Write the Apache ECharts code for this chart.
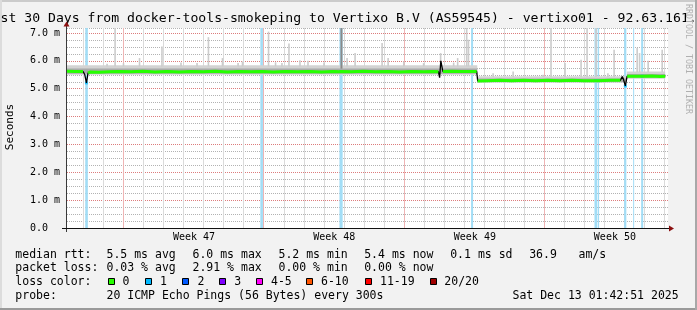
<!DOCTYPE html>
<html>
<head>
<meta charset="utf-8">
<script src="https://cdn.jsdelivr.net/npm/echarts@6.0.0/dist/echarts.min.js"></script>
<style>
html,body{margin:0;padding:0;background:#f2f2f2;}
#chart{width:697px;height:310px;}
</style>
</head>
<body>
<div id="chart"></div>
<script>
// ================= DATA =================
// x: days since the start of the 30-day window, y: round-trip time in ms
const titleText = 'Last 30 Days from docker-tools-smokeping to Vertixo B.V (AS59545) - vertixo01 - 92.63.161.';
const yAxisName = 'Seconds';
const watermark = 'RRDTOOL / TOBI OETIKER';
const yTickLabels = ['0.0  ', '1.0 m', '2.0 m', '3.0 m', '4.0 m', '5.0 m', '6.0 m', '7.0 m'];
const weekLabels = ['Week 47', 'Week 48', 'Week 49', 'Week 50'];
const weekLabelDays = [6.34, 13.34, 20.36, 27.35];
const weekStartDays = [2.82, 9.82, 16.82, 23.82];
const dayLineDays = [0.82, 1.82, 2.82, 3.82, 4.82, 5.82, 6.82, 7.82, 8.82, 9.82,
  10.82, 11.82, 12.82, 13.82, 14.82, 15.82, 16.82, 17.82, 18.82, 19.82,
  20.82, 21.82, 22.82, 23.82, 24.82, 25.82, 26.82, 27.82, 28.82, 29.82];

// median RTT [day, ms]
const medianRtt = [
  [0.00,5.63],[0.40,5.62],[0.80,5.62],[0.88,5.52],[0.97,5.21],[1.05,5.56],[1.15,5.60],
  [1.60,5.59],[2.10,5.61],[2.60,5.62],[3.20,5.61],[3.80,5.63],[4.40,5.60],[5.00,5.62],
  [5.60,5.60],[6.20,5.62],[6.80,5.61],[7.40,5.63],[8.00,5.60],[8.60,5.62],[9.20,5.61],
  [9.72,5.62],[10.30,5.60],[10.90,5.62],[11.50,5.61],[12.10,5.62],[12.70,5.60],[13.30,5.62],
  [13.58,5.61],[13.62,5.55],[13.68,5.62],[14.20,5.61],[14.80,5.63],[15.40,5.61],[16.00,5.62],
  [16.60,5.60],[17.20,5.62],[17.80,5.61],[18.30,5.62],[18.54,5.61],[18.60,5.40],[18.66,6.00],
  [18.76,5.62],[19.20,5.63],[19.70,5.62],[20.22,5.62],[20.45,5.62],[20.50,5.28],[21.00,5.29],
  [21.60,5.30],[22.20,5.29],[22.80,5.30],[23.40,5.29],[24.00,5.30],[24.60,5.29],[25.20,5.30],
  [25.80,5.29],[26.38,5.29],[26.52,5.29],[27.10,5.30],[27.62,5.30],[27.72,5.44],[27.78,5.33],
  [27.87,5.10],[27.96,5.45],[28.40,5.45],[28.71,5.45],[29.20,5.46],[29.60,5.44],[29.86,5.45]
];
// samples with one lost ping [day, median ms]
const lossPoints = [[0.97,5.21],[9.72,5.62],[13.68,5.62],[20.22,5.62],[26.38,5.29],[26.52,5.29],[27.87,5.10],[28.71,5.45]];
// periods with packet loss [startDay, endDay]
const lossPeriods = [[0.91,1.04],[9.65,9.78],[13.60,13.76],[20.17,20.27],[26.33,26.46],[26.49,26.56],[27.81,27.92],[28.26,28.31],[28.66,28.76]];
// smoke (ping spread) [startDay, endDay, lowMs, highMs]
const smokeOuter = [[0,20.48,5.50,5.84],[20.48,27.95,5.21,5.45],[27.95,29.86,5.36,5.62]];
const smokeCore = [[0,20.48,5.54,5.73],[20.48,27.95,5.24,5.37],[27.95,29.86,5.39,5.53]];
// slow pings above the smoke band [day, baseMs, topMs]
const smokeSpikes = [
  [2.00,5.8,5.90],[2.40,5.8,7.18],[2.82,5.8,5.92],[3.62,5.8,6.10],[4.74,5.8,6.52],[5.69,5.8,5.94],
  [6.49,5.8,5.92],[7.06,5.8,6.85],[7.76,5.8,6.10],[8.54,5.8,5.92],[8.76,5.8,5.98],[10.06,5.8,7.05],
  [10.41,5.8,5.95],[10.73,5.8,5.92],[11.08,5.8,6.62],[11.63,5.8,6.02],[12.03,5.8,6.00],[12.83,5.8,5.94],
  [13.98,5.8,6.10],[14.38,5.8,6.28],[15.73,5.8,6.64],[16.03,5.8,6.10],[16.81,5.8,5.98],[17.80,5.8,5.92],
  [18.65,5.8,6.28],[19.30,5.8,5.94],[19.50,5.8,6.10],[19.95,5.8,7.18],[20.04,5.8,6.76],
  [21.27,5.42,5.56],[22.27,5.42,5.62],[23.76,5.42,5.50],[24.16,5.42,7.18],[24.86,5.42,5.92],
  [25.66,5.42,6.04],[25.96,5.42,7.18],[26.41,5.42,7.18],[27.00,5.42,5.56],[27.31,5.42,6.40],
  [28.46,5.6,6.46],[28.58,5.6,6.28],[29.01,5.6,6.00],[29.71,5.6,6.40]
];
const smokeDense = [[13.70,5.68,7.18]];

// legend / statistics texts
const rttLabel = 'median rtt:';
const rttStats = ['5.5 ms avg', '6.0 ms max', '5.2 ms min', '5.4 ms now', '0.1 ms sd', '36.9', 'am/s'];
const lossLabel = 'packet loss:';
const lossStats = ['0.03 % avg', '2.91 % max', '0.00 % min', '0.00 % now'];
const lossColorLabel = 'loss color:';
const lossColorNames = ['0', '1', '2', '3', '4-5', '6-10', '11-19', '20/20'];
const probeLabel = 'probe:';
const probeText = '20 ICMP Echo Pings (56 Bytes) every 300s';
const dateText = 'Sat Dec 13 01:42:51 2025';

// ================= STYLE / LAYOUT =================
const lossColors = ['#26ff00', '#00b8ff', '#0059ff', '#7e00ff', '#ff00fa', '#ff5500', '#ff0000', '#a00000'];
const MONO = '"DejaVu Sans Mono"';
const X_MAX = 30, Y_MAX = 7.18;
const G = {left: 67, right: 668, top: 28, bottom: 228};
const rttX = [106.5, 192.5, 278.5, 364.2, 450.2, 529.2, 578.5];
const boxX = [108.5, 145.5, 182.5, 219.5, 256.5, 306.5, 365.5, 430.5];
const boxLabelX = [122.5, 160, 197.5, 234.3, 271, 321, 380, 444.3];
const rowY = [254.6, 268.4, 282.2, 296];
const gridRed = '#dc7c7c', gridGray = '#b2b2b2';
const vGridRed = '#eeb4b4', vGridGray = '#dadada';
// day-line colours: the week boundaries (every 7th line, from the 3rd) are red
const dayLineColors = dayLineDays.slice(0, 7).map(d => weekStartDays.some(w => Math.abs(w - d) < 1e-6) ? vGridRed : vGridGray);

const chart = echarts.init(document.getElementById('chart'));

const greenData = [];
medianRtt.forEach((p, i) => {
  if (i > 0 && Math.abs(p[1] - medianRtt[i - 1][1]) > 0.1) greenData.push([p[0], null]);
  greenData.push(p);
});

function rectItem(api, x0, x1, y0, y1, fill) {
  const a = api.coord([x0, y1]);
  const b = api.coord([x1, y0]);
  return {type: 'rect', shape: {x: a[0], y: a[1], width: Math.max(b[0] - a[0], 0.8), height: b[1] - a[1]}, style: {fill: fill}};
}

const text = (t, x, y, font, opts) => Object.assign({
  type: 'text', x: x, y: y, z: 100, silent: true,
  style: Object.assign({text: t, font: font, fill: '#000', align: 'left', textAlign: 'left', verticalAlign: 'middle', textVerticalAlign: 'middle'}, (opts && opts.style) || {})
}, opts && opts.el ? opts.el : {});

const legendFont = '11.5px ' + MONO;
const graphics = [];
// frame shading
graphics.push({type: 'rect', z: 100, silent: true, shape: {x: 0, y: 0, width: 697, height: 2}, style: {fill: '#cbcbcb'}});
graphics.push({type: 'rect', z: 100, silent: true, shape: {x: 0, y: 0, width: 2, height: 310}, style: {fill: '#dcdcdc'}});
graphics.push({type: 'rect', z: 100, silent: true, shape: {x: 0, y: 308, width: 697, height: 2}, style: {fill: '#9a9a9a'}});
graphics.push({type: 'rect', z: 100, silent: true, shape: {x: 695, y: 0, width: 2, height: 310}, style: {fill: '#a8a8a8'}});
// axes lines and arrows
graphics.push({type: 'line', z: 100, silent: true, shape: {x1: G.left - 0.5, y1: G.bottom + 4, x2: G.left - 0.5, y2: G.top - 3}, style: {stroke: '#3a3a3a', lineWidth: 1}});
graphics.push({type: 'line', z: 100, silent: true, shape: {x1: G.left - 5, y1: G.bottom + 0.5, x2: G.right + 2, y2: G.bottom + 0.5}, style: {stroke: '#111', lineWidth: 1}});
graphics.push({type: 'polygon', z: 101, silent: true, shape: {points: [[G.left - 0.5, G.top - 6.5], [G.left - 3.5, G.top - 1.5], [G.left + 2.5, G.top - 1.5]]}, style: {fill: '#8b1010'}});
graphics.push({type: 'polygon', z: 101, silent: true, shape: {points: [[G.right + 6, G.bottom + 0.5], [G.right + 1, G.bottom - 2.5], [G.right + 1, G.bottom + 3.5]]}, style: {fill: '#8b1010'}});
// title, axis name, watermark
graphics.push(text(titleText, -15.3, 18.6, '13.15px ' + MONO));
graphics.push(text(yAxisName, 10.5, 127, '11px ' + MONO, {style: {align: 'center', textAlign: 'center'}, el: {rotation: Math.PI / 2}}));
graphics.push(text(watermark, 688, 4, '8.3px ' + MONO, {style: {fill: '#b0b0b0'}, el: {rotation: -Math.PI / 2}}));
// statistics rows
graphics.push(text(rttLabel, 15.3, rowY[0], legendFont));
rttStats.forEach((s, i) => graphics.push(text(s, rttX[i], rowY[0], legendFont)));
graphics.push(text(lossLabel, 15.3, rowY[1], legendFont));
lossStats.forEach((s, i) => graphics.push(text(s, rttX[i], rowY[1], legendFont)));
graphics.push(text(lossColorLabel, 15.3, rowY[2], legendFont));
lossColorNames.forEach((s, i) => {
  graphics.push({type: 'rect', z: 100, silent: true, shape: {x: boxX[i], y: rowY[2] - 3.7, width: 6, height: 6}, style: {fill: lossColors[i], stroke: '#000', lineWidth: 1}});
  graphics.push(text(s, boxLabelX[i], rowY[2], legendFont));
});
graphics.push(text(probeLabel, 15.3, rowY[3], legendFont));
graphics.push(text(probeText, rttX[0], rowY[3], legendFont));
graphics.push(text(dateText, 512.5, rowY[3], legendFont));

const option = {
  animation: false,
  backgroundColor: '#f2f2f2',
  textStyle: {fontFamily: 'DejaVu Sans Mono'},
  grid: {left: G.left, right: 697 - G.right, top: G.top, bottom: 310 - G.bottom, show: true, backgroundColor: '#ffffff', borderWidth: 0},
  xAxis: {
    type: 'value', min: 0, max: X_MAX,
    axisLine: {show: false},
    axisTick: {show: false, customValues: dayLineDays},
    splitLine: {show: true, lineStyle: {color: dayLineColors, width: 1, type: 'solid'}},
    axisLabel: {
      customValues: weekLabelDays,
      formatter: v => { const i = weekLabelDays.findIndex(w => Math.abs(w - v) < 1e-6); return i >= 0 ? weekLabels[i] : ''; },
      fontSize: 10, color: '#000', margin: 4, fontFamily: 'DejaVu Sans Mono'
    }
  },
  yAxis: {
    type: 'value', min: 0, max: Y_MAX, interval: 0.25,
    axisLine: {show: false}, axisTick: {show: false},
    axisLabel: {
      formatter: v => { const r = Math.round(v); return Math.abs(v - r) < 1e-6 && yTickLabels[r] ? yTickLabels[r] : ''; },
      fontSize: 10, color: '#000', margin: 7, fontFamily: 'DejaVu Sans Mono'
    },
    splitLine: {show: true, lineStyle: {color: [gridRed, gridGray, gridGray, gridGray], width: 1, type: [1, 1]}}
  },
  graphic: {elements: graphics},
  series: [
    {
      type: 'custom', name: 'loss', silent: true, clip: true,
      data: lossPeriods, encode: {x: [0, 1]},
      renderItem: (params, api) => rectItem(api, api.value(0), api.value(1), 0, Y_MAX, '#a2ddf6')
    },
    {
      type: 'custom', name: 'smoke outer', silent: true, clip: true,
      data: smokeOuter, encode: {x: [0, 1], y: [2, 3]},
      renderItem: (params, api) => rectItem(api, api.value(0), api.value(1), api.value(2), api.value(3), '#d3d3d3')
    },
    {
      type: 'custom', name: 'smoke spikes', silent: true, clip: true,
      data: smokeSpikes, encode: {x: 0, y: [1, 2]},
      renderItem: (params, api) => {
        const a = api.coord([api.value(0), api.value(2)]), b = api.coord([api.value(0), api.value(1)]);
        return {type: 'rect', shape: {x: a[0] - 0.8, y: a[1], width: 1.6, height: b[1] - a[1]}, style: {fill: '#cccccc'}};
      }
    },
    {
      type: 'custom', name: 'smoke dense', silent: true, clip: true,
      data: smokeDense, encode: {x: 0, y: [1, 2]},
      renderItem: (params, api) => {
        const a = api.coord([api.value(0), api.value(2)]), b = api.coord([api.value(0), api.value(1)]);
        return {type: 'rect', shape: {x: a[0] - 1, y: a[1], width: 2, height: b[1] - a[1]}, style: {fill: '#8a8a8a'}};
      }
    },
    {
      type: 'custom', name: 'smoke core', silent: true, clip: true,
      data: smokeCore, encode: {x: [0, 1], y: [2, 3]},
      renderItem: (params, api) => rectItem(api, api.value(0), api.value(1), api.value(2), api.value(3), '#aaaaaa')
    },
    {
      type: 'line', name: 'median', data: medianRtt, showSymbol: false, silent: true,
      lineStyle: {color: '#000', width: 1.3}, clip: true
    },
    {
      type: 'line', name: 'median loss 0', data: greenData, showSymbol: false, silent: true, connectNulls: false,
      lineStyle: {color: '#26ff00', width: 3}, clip: true
    },
    {
      type: 'scatter', name: 'median loss 1', data: lossPoints, symbol: 'rect', symbolSize: [3, 3], silent: true,
      itemStyle: {color: '#00b8ff'}
    }
  ]
};
chart.setOption(option);
</script>
</body>
</html>
